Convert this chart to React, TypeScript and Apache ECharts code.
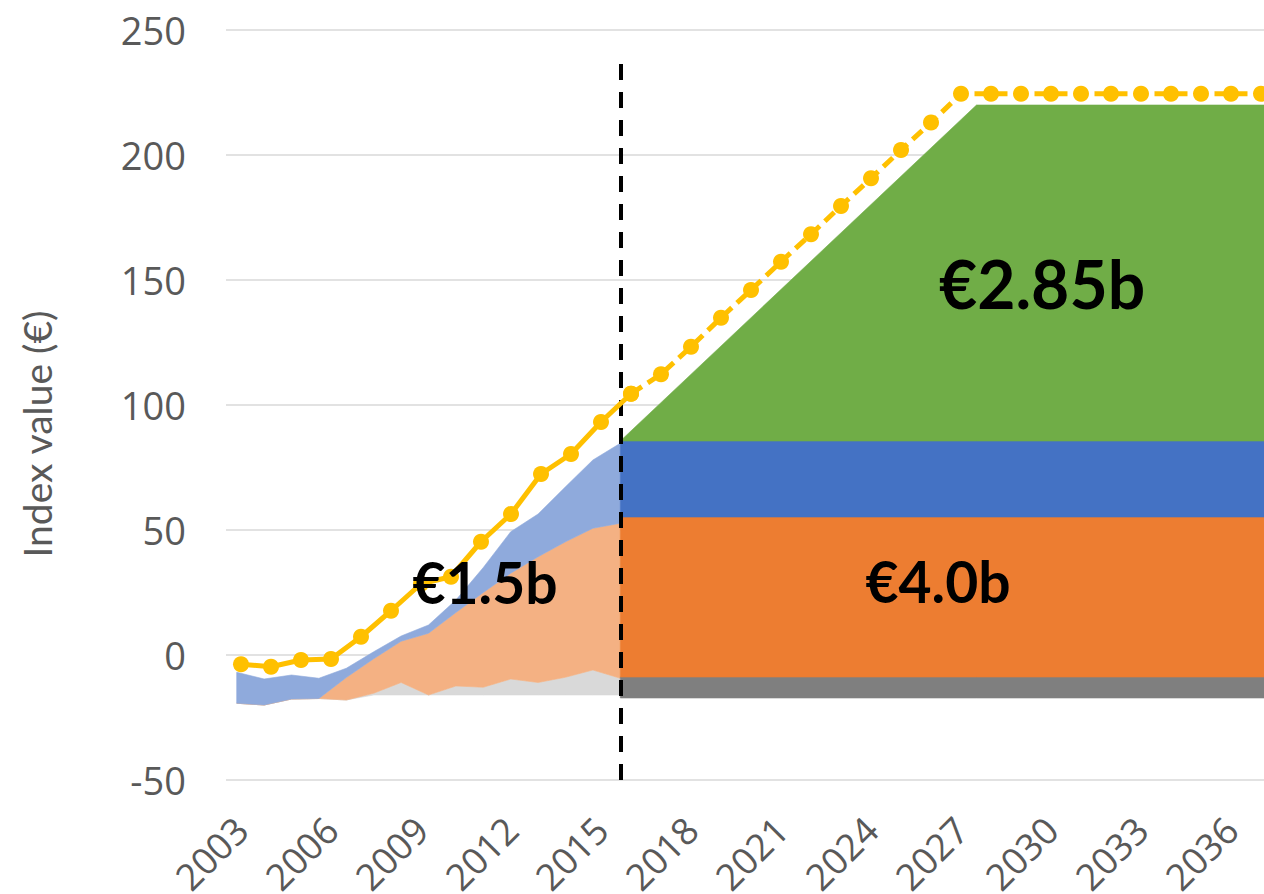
import React, { useEffect, useRef } from "react";
import * as echarts from "echarts";

// ---- Data -------------------------------------------------------------
const years = [
  "2003", "2004", "2005", "2006", "2007", "2008", "2009", "2010", "2011", "2012",
  "2013", "2014", "2015", "2016", "2017", "2018", "2019", "2020", "2021", "2022",
  "2023", "2024", "2025", "2026", "2027", "2028", "2029", "2030", "2031", "2032",
  "2033", "2034", "2035", "2036", "2037",
];

// Index value (yellow line), one per year
const indexValue = [
  -3.7, -4.7, -2, -1.6, 7.3, 17.7, 28.5, 31.3, 45.3, 56.4,
  72.4, 80.4, 93.2, 104.5, 112.3, 123.3, 134.9, 146, 157.3, 168.3,
  179.6, 190.7, 202, 213, 224.5, 224.5, 224.5, 224.5, 224.5, 224.5,
  224.5, 224.5, 224.5, 224.5, 224.5,
];
const lastHistoricalYear = "2016";

// Area chart periods (secondary, hidden axis): layer boundaries
const histPeriods = [0, 1, 2, 3, 4, 5, 6, 7, 8, 9, 10, 11, 12, 13, 14];
const histBottom = [-19.3, -20, -17.6, -17.4, -18, -16, -16, -16, -16, -16, -16, -16, -16, -16, -16];
const histGreyTop = [-19.3, -20, -17.6, -17.4, -18, -15.3, -11, -16, -12.4, -12.9, -9.6, -11, -8.9, -6, -9.3];
const histOrangeTop = [-19.3, -20, -17.6, -17.4, -9, -1.5, 5.5, 8.7, 17, 25, 32.7, 39.3, 45.3, 50.7, 52.7];
const histBlueTop = [-6.9, -9.6, -8, -9.3, -5.3, 1.3, 7.6, 12, 22, 35, 49.3, 56.4, 67.3, 78, 84.7];

const projPeriods = [14, 27, 38];
const projBottom = [-17.2, -17.2, -17.2];
const projGreyTop = [-8.8, -8.8, -8.8];
const projOrangeTop = [55.2, 55.2, 55.2];
const projBlueTop = [85.6, 85.6, 85.6];
const projGreenTop = [85.6, 220, 220];

const dividerPeriod = 14;
const dividerRange = [-50, 237];

const yTicks = { min: -50, max: 250, interval: 50 };

// ---- Styles -----------------------------------------------------------
const C = {
  yellow: "#ffc000",
  greyLight: "#d9d9d9",
  orangeLight: "#f4b183",
  blueLight: "#8faadc",
  greyDark: "#7f7f7f",
  orangeDark: "#ed7d31",
  blueDark: "#4472c4",
  green: "#70ad47",
  text: "#595959",
  grid: "#d9d9d9",
};

type Band = { name: string; periods: number[]; lower: number[]; upper: number[]; color: string };

const bands: Band[] = [
  { name: "hist grey", periods: histPeriods, lower: histBottom, upper: histGreyTop, color: C.greyLight },
  { name: "hist orange", periods: histPeriods, lower: histGreyTop, upper: histOrangeTop, color: C.orangeLight },
  { name: "hist blue", periods: histPeriods, lower: histOrangeTop, upper: histBlueTop, color: C.blueLight },
  { name: "proj grey", periods: projPeriods, lower: projBottom, upper: projGreyTop, color: C.greyDark },
  { name: "proj orange", periods: projPeriods, lower: projGreyTop, upper: projOrangeTop, color: C.orangeDark },
  { name: "proj blue", periods: projPeriods, lower: projOrangeTop, upper: projBlueTop, color: C.blueDark },
  { name: "proj green", periods: projPeriods, lower: projBlueTop, upper: projGreenTop, color: C.green },
];

export default function App() {
  const ref = useRef<HTMLDivElement>(null);

  useEffect(() => {
    if (!ref.current) return;
    const chart = echarts.init(ref.current, undefined, { renderer: "svg" });
    const splitIdx = years.indexOf(lastHistoricalYear);
    const solid = indexValue.map((v, i) => (i <= splitIdx ? v : null));
    const dashed = indexValue.map((v, i) => (i >= splitIdx ? v : null));

    const renderBand = (params: any, api: any) => {
      const b = bands[params.dataIndex];
      const top = b.periods.map((p, i) => api.coord([p, b.upper[i]]));
      const bottom = b.periods.map((p, i) => api.coord([p, b.lower[i]])).reverse();
      return {
        type: "polygon",
        shape: { points: top.concat(bottom) },
        style: { fill: b.color, stroke: b.color, lineWidth: 0.6 },
      };
    };

    const option: any = {
      animation: false,
      grid: [
        { left: 226, top: 30, width: 1050, height: 750, containLabel: false, outerBoundsMode: "none" },
        { left: 236.7, top: 30, width: 1041.2, height: 750, containLabel: false, outerBoundsMode: "none" },
      ],
      xAxis: [
        {
          type: "category",
          gridIndex: 0,
          data: years,
          boundaryGap: true,
          axisLine: { show: false },
          axisTick: { show: false },
          splitLine: { show: false },
          axisLabel: {
            interval: 2,
            rotate: 45,
            margin: 43,
            fontSize: 37,
            color: C.text,
            fontFamily: "Open Sans",
          },
        },
        {
          type: "value",
          gridIndex: 1,
          min: 0,
          max: 38,
          show: false,
          splitLine: { show: false },
        },
      ],
      yAxis: [
        {
          type: "value",
          gridIndex: 0,
          min: yTicks.min,
          max: yTicks.max,
          interval: yTicks.interval,
          axisLine: { show: false },
          axisTick: { show: false },
          splitLine: { lineStyle: { color: C.grid, width: 1.5 } },
          axisLabel: { fontSize: 38, color: C.text, margin: 40, fontFamily: "Open Sans" },
        },
        {
          type: "value",
          gridIndex: 1,
          min: yTicks.min,
          max: yTicks.max,
          show: false,
          splitLine: { show: false },
        },
      ],
      series: [
        {
          name: "bands",
          type: "custom",
          xAxisIndex: 1,
          yAxisIndex: 1,
          silent: true,
          z: 2,
          renderItem: renderBand,
          data: bands.map((_, i) => [i]),
        },
        {
          name: "divider",
          type: "line",
          xAxisIndex: 1,
          yAxisIndex: 1,
          data: [],
          z: 4,
          silent: true,
          markLine: {
            silent: true,
            symbol: ["none", "none"],
            label: { show: false },
            lineStyle: { color: "#000", width: 4, type: [16, 12] },
            data: [[
              { coord: [dividerPeriod, dividerRange[0]] },
              { coord: [dividerPeriod, dividerRange[1]] },
            ]],
          },
        },
        {
          name: "Index (history)",
          type: "line",
          xAxisIndex: 0,
          yAxisIndex: 0,
          z: 5,
          data: solid,
          symbol: "circle",
          symbolSize: 16,
          showAllSymbol: true,
          itemStyle: { color: C.yellow },
          lineStyle: { color: C.yellow, width: 5 },
        },
        {
          name: "Index (projection)",
          type: "line",
          xAxisIndex: 0,
          yAxisIndex: 0,
          z: 5,
          data: dashed,
          symbol: "circle",
          symbolSize: 16,
          showAllSymbol: true,
          itemStyle: { color: C.yellow },
          lineStyle: { color: C.yellow, width: 5, type: [13, 7] },
        },
      ],
      graphic: [
        {
          type: "text",
          x: 37,
          y: 434,
          rotation: Math.PI / 2,
          z: 10,
          style: {
            text: "Index value (€)",
            fontFamily: "Lato",
            fontSize: 39,
            fill: C.text,
            textAlign: "center",
            textVerticalAlign: "middle",
          },
        },
        {
          type: "text",
          x: 485,
          y: 582,
          z: 10,
          style: {
            text: "€1.5b",
            fontFamily: "Lato",
            fontWeight: "bold",
            fontSize: 57,
            fill: "#000",
            textAlign: "center",
            textVerticalAlign: "middle",
          },
        },
        {
          type: "text",
          x: 938,
          y: 581,
          z: 10,
          style: {
            text: "€4.0b",
            fontFamily: "Lato",
            fontWeight: "bold",
            fontSize: 57,
            fill: "#000",
            textAlign: "center",
            textVerticalAlign: "middle",
          },
        },
        {
          type: "text",
          x: 1042,
          y: 283,
          z: 10,
          style: {
            text: "€2.85b",
            fontFamily: "Lato",
            fontWeight: "bold",
            fontSize: 66,
            fill: "#000",
            textAlign: "center",
            textVerticalAlign: "middle",
          },
        },
      ],
    };

    chart.setOption(option);
    return () => chart.dispose();
  }, []);

  return (
    <div
      ref={ref}
      style={{ position: "absolute", left: 0, top: 0, width: 1264, height: 894, background: "#fff" }}
    />
  );
}
